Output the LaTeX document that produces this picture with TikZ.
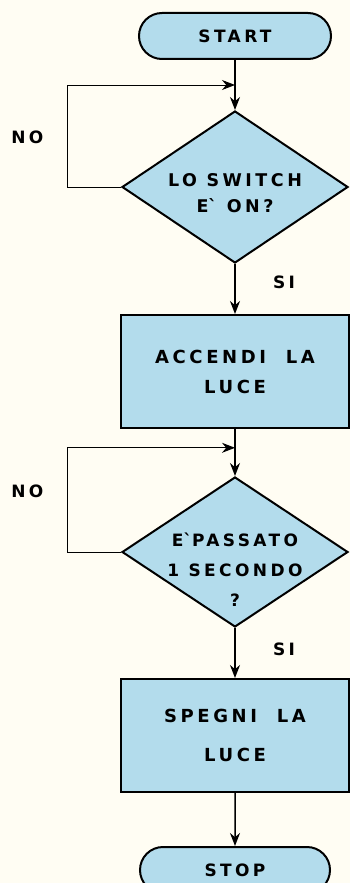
\documentclass[tikz,border=0pt]{standalone}
\usepackage{fontspec}
\setsansfont[LetterSpace=20]{DejaVu Sans}
\usepackage{tikz}
\usetikzlibrary{arrows.meta,shapes,positioning,calc}

\definecolor{paper}{HTML}{FFFDF3}
\definecolor{boxblue}{HTML}{B3DCEC}

\begin{document}
\begin{tikzpicture}[x=1pt, y=1pt, >={Stealth[length=13pt,width=10pt]}, node distance=50pt,
                    every node/.style={align=center, font=\sffamily\bfseries\fontsize{17}{28}\selectfont}]
  \fill[paper] (0,0) rectangle (350,-883);
  \useasboundingbox (0,0) rectangle (350,-883);

  % Define nodes
  \node[draw, line width=2pt, rounded rectangle, fill=boxblue, minimum width=192pt, minimum height=46pt, inner sep=0pt]
    (start) at (235,-36) {START};

  \node[draw, line width=2pt, diamond, fill=boxblue, minimum width=226pt, minimum height=152pt, inner sep=0pt,
        below=50pt of start] (switch) {};
  \node[yshift=-6pt, font=\sffamily\bfseries\fontsize{17.5}{26}\selectfont] (switchtxt) at (switch)
    {LO SWITCH\\E\textasciigrave\ ON?};

  \node[draw, line width=2pt, rectangle, fill=boxblue, minimum width=228pt, minimum height=113pt,
        below=50pt of switch, font=\sffamily\bfseries\fontsize{18}{30}\selectfont] (accendi)
    {ACCENDI\ \ LA\\LUCE};

  \node[draw, line width=2pt, diamond, fill=boxblue, minimum width=226pt, minimum height=150pt, inner sep=0pt,
        below=47pt of accendi] (passato) {};
  \node[yshift=-18pt, font=\sffamily\bfseries\fontsize{17}{30}\selectfont] (passatotxt) at (passato)
    {E\textasciigrave PASSATO\\1 SECONDO\\?};

  \node[draw, line width=2pt, rectangle, fill=boxblue, minimum width=228pt, minimum height=113pt,
        below=50pt of passato, font=\sffamily\bfseries\fontsize{18}{39}\selectfont] (spegni)
    {SPEGNI\ \ LA\\LUCE};

  \node[draw, line width=2pt, rounded rectangle, fill=boxblue, minimum width=190pt, minimum height=46pt, inner sep=0pt,
        below=53pt of spegni] (stop) {STOP};

  \coordinate (join1) at ($(start.south)!0.5!(switch.north)$);
  \coordinate (join2) at ($(accendi.south)!0.4!(passato.north)$);

  \node[left=74pt of switch.west, yshift=50pt] (no1) {NO};
  \node[left=74pt of passato.west, yshift=61pt] (no2) {NO};

  % Define paths
  \draw[line width=1.5pt] (start) -- (join1);
  \draw[->, line width=1.5pt] (join1) -- (switch);
  \draw[->, line width=1pt] (switch.west) -- ++(-54,0) |- (join1);
  \draw[->, line width=1.5pt] (switch) -- node[right=34pt, pos=0.36]{SI} (accendi);

  \draw[line width=1.5pt] (accendi) -- (join2);
  \draw[->, line width=1.5pt] (join2) -- (passato);
  \draw[->, line width=1pt] (passato.west) -- ++(-54,0) |- (join2);
  \draw[->, line width=1.5pt] (passato) -- node[right=34pt, pos=0.42]{SI} (spegni);

  \draw[->, line width=1.5pt] (spegni) -- (stop);

\end{tikzpicture}
\end{document}
